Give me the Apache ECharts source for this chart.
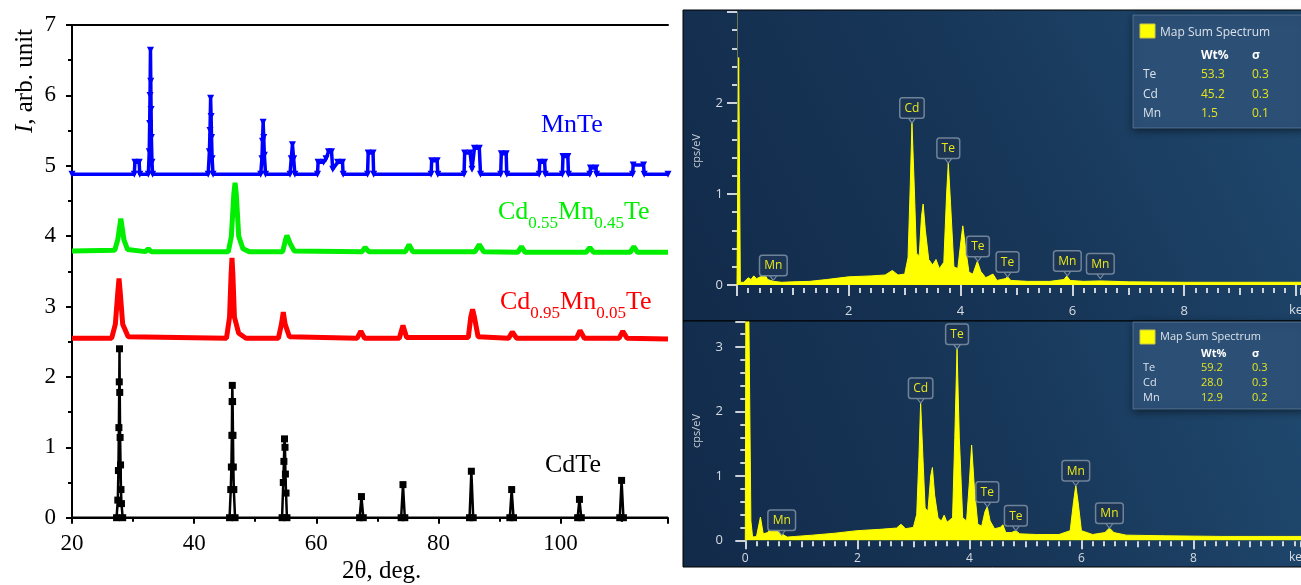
<!DOCTYPE html>
<html><head><meta charset="utf-8">
<script src="https://cdn.jsdelivr.net/npm/echarts@6.0.0/dist/echarts.min.js"></script>
<style>html,body{margin:0;padding:0;background:#fff}#c{width:1301px;height:585px}</style>
</head><body><div id="c"></div>
<script>
// ---------- XRD (left) ----------
const cdteTheta = [20,27.3,27.5,27.6,27.68,27.74,27.78,27.82,27.88,27.95,28.02,28.1,28.3,45.8,46.0,46.1,46.18,46.22,46.25,46.3,46.36,46.42,46.5,46.7,54.4,54.6,54.7,54.8,54.88,54.95,55.05,55.2,67.1,67.4,67.7,73.9,74.2,74.5,85.1,85.4,85.7,91.7,92.0,92.3,102.8,103.1,103.4,109.7,110.0,110.3,117.6];
const cdteInt   = [0,0,0.25,0.67,1.28,1.93,2.4,1.78,1.14,0.75,0.4,0.2,0,0,0.4,0.72,1.17,1.65,1.88,1.65,1.17,0.72,0.4,0,0,0.5,0.8,1.12,1.0,0.62,0.35,0,0,0.3,0,0,0.47,0,0,0.66,0,0,0.4,0,0,0.26,0,0,0.53,0,0];

const cmt05Theta = [20,26.5,27.1,27.5,27.7,27.9,28.3,29.2,45.3,45.8,46.05,46.2,46.35,46.6,47.3,48.5,53.8,54.3,54.6,54.9,55.6,66.7,67.3,67.9,73.6,74.2,74.8,84.9,85.3,85.6,85.9,86.5,91.5,92.1,92.8,102.6,103.2,103.9,109.6,110.2,110.9,117.6];
const cmt05Int   = [2.55,2.55,2.75,3.2,3.40,3.2,2.75,2.57,2.55,2.85,3.45,3.69,3.45,2.85,2.62,2.55,2.55,2.75,2.92,2.75,2.57,2.55,2.65,2.55,2.55,2.73,2.56,2.56,2.85,2.96,2.85,2.57,2.55,2.64,2.55,2.55,2.66,2.55,2.55,2.65,2.55,2.54];

const cmt45Theta = [20,27.0,27.5,28.0,28.5,29.1,32.0,32.5,33.0,45.6,46.1,46.5,46.7,46.9,47.3,48.0,49.0,54.5,55.0,55.2,55.7,56.4,67.5,68.0,68.6,74.6,75.2,75.8,86.0,86.7,87.4,93.0,93.6,94.2,104.2,104.8,105.4,111.4,112.0,112.6,117.6];
const cmt45Int   = [3.79,3.80,3.95,4.25,3.95,3.81,3.78,3.82,3.78,3.78,4.0,4.6,4.76,4.6,4.0,3.82,3.78,3.78,3.96,4.01,3.9,3.79,3.78,3.84,3.78,3.78,3.88,3.78,3.78,3.88,3.78,3.77,3.85,3.77,3.77,3.84,3.77,3.77,3.85,3.77,3.77];

const mnteTheta = [20,30.2,30.3,31.0,31.1,32.5,32.65,32.72,32.78,32.85,32.9,32.95,33.0,33.1,33.2,42.3,42.5,42.6,42.7,42.78,42.85,42.95,43.1,50.9,51.1,51.2,51.3,51.4,51.5,51.7,55.7,55.9,56.1,56.3,56.5,60.2,60.3,61.2,61.6,62.0,62.5,62.7,63.5,64.3,64.4,68.4,68.5,69.3,69.4,78.8,78.9,79.8,79.9,84.2,84.3,85.2,85.5,85.9,86.7,86.9,90.2,90.3,91.1,91.2,96.5,96.6,97.4,97.5,100.3,100.4,101.2,101.3,104.8,104.9,105.8,105.9,111.8,111.9,113.6,113.7,117.6];
const mnteInt   = [4.88,4.88,5.05,5.05,4.88,4.88,5.2,5.6,6.0,6.64,6.2,5.8,5.4,5.05,4.88,4.88,5.2,5.5,5.96,5.7,5.4,5.1,4.88,4.88,5.1,5.35,5.62,5.4,5.15,4.88,4.88,5.1,5.30,5.1,4.88,4.88,5.05,5.05,5.1,5.2,5.2,4.95,5.05,5.05,4.88,4.88,5.18,5.18,4.88,4.88,5.07,5.07,4.88,4.88,5.18,5.18,4.95,5.25,5.25,4.88,4.88,5.17,5.17,4.88,4.88,5.05,5.05,4.88,4.88,5.13,5.13,4.88,4.88,4.97,4.97,4.88,4.88,5.01,5.01,4.88,4.88];

// ---------- EDS spectra (right) ----------
const spec1E = [0.0,0.03,0.06,0.12,0.2,0.25,0.3,0.35,0.42,0.5,0.55,0.65,0.8,1.0,1.3,1.6,2.0,2.4,2.65,2.78,2.88,3.0,3.06,3.1,3.13,3.17,3.21,3.26,3.3,3.33,3.37,3.43,3.5,3.56,3.62,3.7,3.75,3.78,3.82,3.88,3.95,4.0,4.04,4.09,4.15,4.22,4.3,4.36,4.45,4.58,4.65,4.8,4.84,4.9,5.2,5.6,5.85,5.9,5.96,6.2,6.5,7.0,8.0,9.0,10.1];
const spec1C = [0.0,2.5,0.03,0.03,0.08,0.06,0.1,0.07,0.09,0.11,0.06,0.04,0.03,0.035,0.04,0.06,0.09,0.1,0.11,0.16,0.11,0.12,0.3,1.1,1.78,1.1,0.35,0.32,0.75,0.89,0.6,0.28,0.22,0.28,0.18,0.25,1.0,1.34,0.9,0.2,0.18,0.45,0.65,0.4,0.14,0.12,0.26,0.15,0.08,0.12,0.05,0.07,0.09,0.05,0.04,0.04,0.06,0.10,0.05,0.04,0.045,0.035,0.03,0.03,0.03];
const spec2E = [0.0,0.01,0.06,0.1,0.13,0.2,0.27,0.32,0.4,0.47,0.52,0.58,0.65,0.75,0.9,1.2,1.6,2.0,2.4,2.7,2.78,2.86,3.0,3.06,3.1,3.13,3.17,3.21,3.26,3.31,3.34,3.38,3.44,3.5,3.55,3.6,3.7,3.74,3.78,3.82,3.88,3.95,4.0,4.04,4.09,4.15,4.22,4.28,4.32,4.37,4.45,4.55,4.6,4.65,4.75,4.83,4.9,5.2,5.6,5.8,5.86,5.9,5.94,6.0,6.2,6.42,6.5,6.58,6.8,7.5,8.5,9.95];
const spec2C = [0.0,3.8,3.8,0.3,0.05,0.06,0.36,0.1,0.12,0.22,0.25,0.24,0.1,0.05,0.06,0.08,0.11,0.15,0.17,0.19,0.25,0.18,0.2,0.4,1.3,2.13,1.3,0.5,0.45,1.0,1.13,0.7,0.35,0.3,0.39,0.28,0.35,1.6,2.97,1.6,0.35,0.3,0.9,1.48,0.8,0.25,0.22,0.45,0.52,0.3,0.18,0.2,0.24,0.12,0.12,0.15,0.1,0.09,0.09,0.15,0.6,0.85,0.6,0.15,0.09,0.12,0.19,0.12,0.08,0.07,0.06,0.06];

const peaks1Name = ['Mn','Cd','Te','Te','Te','Mn','Mn'];
const peaks1E    = [0.65,3.13,3.78,4.31,4.84,5.91,6.50];
const peaks1C    = [0.05,1.78,1.34,0.26,0.09,0.10,0.07];
const peaks2Name = ['Mn','Cd','Te','Te','Te','Mn','Mn'];
const peaks2E    = [0.65,3.13,3.78,4.32,4.83,5.90,6.50];
const peaks2C    = [0.08,2.13,2.97,0.52,0.15,0.85,0.19];

const legendTitle = 'Map Sum Spectrum';
const legendElems = ['Te','Cd','Mn'];
const wt1 = ['53.3','45.2','1.5'];
const sig1 = ['0.3','0.3','0.1'];
const wt2 = ['59.2','28.0','12.9'];
const sig2 = ['0.3','0.3','0.2'];

// ---------- build ----------
const zip = (a, b) => a.map((v, i) => [v, b[i]]);
const serif = '"Liberation Serif", "Times New Roman", serif';
const sans = '"Open Sans", "Noto Sans", sans-serif';

const chart = echarts.init(document.getElementById('c'), null, {renderer: 'canvas'});

function panelX(grid, min, max, labelFn, off, longLen, midLen, margin, fs) {
  return [
    {type: 'value', gridIndex: grid, position: 'bottom', min: min, max: max, interval: 2, offset: off,
     axisLine: {show: false}, splitLine: {show: false},
     axisTick: {show: true, length: longLen, lineStyle: {color: '#ccd3db', width: 2}},
     axisLabel: {show: true, margin: margin, color: '#d6dce3', fontSize: fs, fontFamily: sans, formatter: labelFn, showMaxLabel: false}},
    {type: 'value', gridIndex: grid, position: 'bottom', min: min, max: max, interval: 1, offset: off,
     axisLine: {show: false}, splitLine: {show: false},
     axisTick: {show: true, length: midLen, lineStyle: {color: '#ccd3db', width: 2}},
     minorTick: {show: true, splitNumber: 5, length: 5, lineStyle: {color: '#ccd3db', width: 2}},
     axisLabel: {show: false}}
  ];
}
function panelY(grid, max, offset, lineShow, labelFn) {
  return {type: 'value', gridIndex: grid, position: 'left', min: 0, max: max, interval: 1, offset: offset,
    axisLine: {show: lineShow, lineStyle: {color: 'rgba(190,190,90,0.5)', width: 1}},
    splitLine: {show: false},
    axisTick: {show: true, length: 10, lineStyle: {color: '#ccd3db', width: 2}},
    minorTick: {show: true, splitNumber: 5, length: 5, lineStyle: {color: '#ccd3db', width: 2}},
    axisLabel: {margin: 14, color: '#d6dce3', fontSize: 13, fontFamily: sans, formatter: labelFn, showMaxLabel: false}};
}
function peakMarks(names, es, cs) {
  return {
    symbol: 'triangle', symbolRotate: 180, symbolSize: [9, 6], symbolOffset: [0, -3],
    itemStyle: {color: '#1d3756', borderColor: '#7b8fa5', borderWidth: 1},
    label: {show: true, position: 'top', distance: -1, formatter: '{b}', color: '#e8e81a',
      fontSize: 12, fontFamily: sans, backgroundColor: '#1c3555', borderColor: '#6f8399',
      borderWidth: 1.5, borderRadius: 2, padding: [4, 4, 3, 4]},
    data: names.map((n, i) => ({name: n, coord: [es[i], cs[i]]}))
  };
}

const x1 = panelX(1, 0, 10.09, v => (v === 0 || v >= 10) ? '' : String(v), 3, 11, 7, 17, 13);
const x2 = panelX(2, 0, 9.92, v => String(v), 1, 9, 6, 11, 12);

const labelRich = {
  m: {fontSize: 26, fontFamily: serif, lineHeight: 28, verticalAlign: 'top'},
  s: {fontSize: 17, fontFamily: serif, lineHeight: 17, padding: [16, 0, 0, 0], verticalAlign: 'top'}
};
function xrdLabel(text, x, y, color) {
  return {type: 'text', x: x, y: y, z: 50,
    style: {text: text, rich: labelRich, fill: color, align: 'left', verticalAlign: 'top', textAlign: 'left', textVerticalAlign: 'top'}};
}

function legendBox(y, h, fs, rowY, headY, titleY, sqY, wt, sg) {
  const items = [
    {type: 'rect', shape: {x: 1133, y: y, width: 172, height: h}, z: 100,
     style: {fill: '#2c4f76', stroke: 'rgba(110,140,170,0.6)', lineWidth: 1, shadowBlur: 8, shadowColor: 'rgba(0,0,0,0.55)', shadowOffsetX: 1, shadowOffsetY: 2}},
    {type: 'rect', shape: {x: 1140, y: sqY, width: 15, height: 14}, z: 101,
     style: {fill: '#ffff00', stroke: '#c8c84a', lineWidth: 1}},
    {type: 'text', z: 101, style: {x: 1160, y: titleY, text: legendTitle, fill: '#dbe2ea', font: fs + 'px ' + sans, align: 'left', verticalAlign: 'middle', textVerticalAlign: 'middle'}},
    {type: 'text', z: 101, style: {x: 1201, y: headY, text: 'Wt%', fill: '#ffffff', font: 'bold ' + fs + 'px ' + sans, align: 'left', verticalAlign: 'middle', textVerticalAlign: 'middle'}},
    {type: 'text', z: 101, style: {x: 1252, y: headY, text: 'σ', fill: '#ffffff', font: 'bold ' + fs + 'px ' + sans, align: 'left', verticalAlign: 'middle', textVerticalAlign: 'middle'}}
  ];
  legendElems.forEach((el, i) => {
    items.push({type: 'text', z: 101, style: {x: 1143, y: rowY[i], text: el, fill: '#dbe2ea', font: fs + 'px ' + sans, align: 'left', verticalAlign: 'middle', textVerticalAlign: 'middle'}});
    items.push({type: 'text', z: 101, style: {x: 1201, y: rowY[i], text: wt[i], fill: '#e4e41e', font: fs + 'px ' + sans, align: 'left', verticalAlign: 'middle', textVerticalAlign: 'middle'}});
    items.push({type: 'text', z: 101, style: {x: 1252, y: rowY[i], text: sg[i], fill: '#e4e41e', font: fs + 'px ' + sans, align: 'left', verticalAlign: 'middle', textVerticalAlign: 'middle'}});
  });
  return items;
}

const bgGrad = () => new echarts.graphic.LinearGradient(0, 1, 1, 0, [
  {offset: 0, color: '#122a4a'}, {offset: 0.5, color: '#173658'}, {offset: 1, color: '#204a70'}]);

const graphics = [
  {type: 'rect', shape: {x: 683, y: 10, width: 620, height: 311}, z: -10, style: {fill: bgGrad(), stroke: '#000', lineWidth: 1}},
  {type: 'rect', shape: {x: 683, y: 321, width: 620, height: 246}, z: -10, style: {fill: bgGrad(), stroke: '#000', lineWidth: 1}},
  {type: 'text', x: 697, y: 151, rotation: Math.PI / 2, z: 5,
   style: {x: 0, y: 0, text: 'cps/eV', fill: '#c9d0d8', font: '11px ' + sans, align: 'center', verticalAlign: 'middle', textAlign: 'center', textVerticalAlign: 'middle'}},
  {type: 'text', x: 697, y: 431, rotation: Math.PI / 2, z: 5,
   style: {x: 0, y: 0, text: 'cps/eV', fill: '#c9d0d8', font: '11px ' + sans, align: 'center', verticalAlign: 'middle', textAlign: 'center', textVerticalAlign: 'middle'}},
  {type: 'text', z: 5, style: {x: 1289, y: 310, text: 'keV', fill: '#d6dce3', font: '13px ' + sans, align: 'left', verticalAlign: 'middle', textVerticalAlign: 'middle'}},
  {type: 'text', z: 5, style: {x: 1289, y: 558, text: 'keV', fill: '#d6dce3', font: '12px ' + sans, align: 'left', verticalAlign: 'middle', textVerticalAlign: 'middle'}},
  // XRD axis titles
  {type: 'text', x: 25, y: 81, rotation: Math.PI / 2, z: 5,
   style: {x: 0, y: 0, text: '{i|I}{n|, arb. unit}', rich: {i: {fontSize: 25, fontFamily: serif, fontStyle: 'italic'}, n: {fontSize: 25, fontFamily: serif}},
     fill: '#000', align: 'center', verticalAlign: 'middle', textAlign: 'center', textVerticalAlign: 'middle'}},
  {type: 'text', z: 5, style: {x: 342, y: 571, text: '2θ, deg.', fill: '#000', font: '25px ' + serif, align: 'left', verticalAlign: 'middle', textVerticalAlign: 'middle'}},
  xrdLabel('{m|MnTe}', 541, 112, '#0000ff'),
  xrdLabel('{m|Cd}{s|0.55}{m|Mn}{s|0.45}{m|Te}', 498, 199, '#00ee00'),
  xrdLabel('{m|Cd}{s|0.95}{m|Mn}{s|0.05}{m|Te}', 500, 289, '#ff0000'),
  xrdLabel('{m|CdTe}', 545, 452, '#000000')
].concat(
  legendBox(15, 113, 12, [75, 95, 114], 56, 33, 24, wt1, sig1),
  legendBox(322, 87, 11, [368, 383, 398], 354, 337, 330, wt2, sig2)
);

const option = {
  animation: false,
  backgroundColor: '#ffffff',
  grid: [
    {left: 72, right: 633, top: 25, bottom: 67.3},
    {left: 737, right: 0, top: 12, bottom: 300},
    {left: 745.3, right: 0, top: 322, bottom: 44.7}
  ],
  xAxis: [
    {type: 'value', gridIndex: 0, position: 'bottom', min: 20, max: 117.6, interval: 20,
     axisLine: {lineStyle: {color: '#000', width: 2}}, splitLine: {show: false},
     axisTick: {length: 6, lineStyle: {color: '#000', width: 2}},
     minorTick: {show: true, splitNumber: 2, length: 4, lineStyle: {color: '#000', width: 2}},
     axisLabel: {margin: 15, color: '#000', fontSize: 23, fontFamily: serif, showMaxLabel: false}},
    {type: 'value', gridIndex: 0, position: 'top', min: 20, max: 117.6,
     axisLine: {lineStyle: {color: '#000', width: 2}}, axisTick: {show: false}, axisLabel: {show: false}, splitLine: {show: false}},
    x1[0], x1[1], x2[0], x2[1]
  ],
  yAxis: [
    {type: 'value', gridIndex: 0, min: 0, max: 7, interval: 1,
     axisLine: {show: true, lineStyle: {color: '#000', width: 2}}, splitLine: {show: false},
     axisTick: {show: true, length: 6, lineStyle: {color: '#000', width: 2}},
     minorTick: {show: true, splitNumber: 2, length: 4, lineStyle: {color: '#000', width: 2}},
     axisLabel: {margin: 16, color: '#000', fontSize: 23, fontFamily: serif}},
    panelY(1, 3, 0, true, v => v === 3 ? '' : String(v)),
    panelY(2, 3.39, 8.3, false, v => String(v))
  ],
  graphic: graphics,
  series: [
    {name: 'Cd0.95Mn0.05Te', type: 'line', xAxisIndex: 0, yAxisIndex: 0, data: zip(cmt05Theta, cmt05Int),
     showSymbol: false, lineStyle: {color: '#ff0000', width: 5}, itemStyle: {color: '#ff0000'}, z: 3},
    {name: 'Cd0.55Mn0.45Te', type: 'line', xAxisIndex: 0, yAxisIndex: 0, data: zip(cmt45Theta, cmt45Int),
     showSymbol: false, lineStyle: {color: '#00ee00', width: 5}, itemStyle: {color: '#00ee00'}, z: 3},
    {name: 'MnTe', type: 'line', xAxisIndex: 0, yAxisIndex: 0, data: zip(mnteTheta, mnteInt),
     symbol: 'triangle', symbolRotate: 180, symbolSize: 7, showAllSymbol: true,
     lineStyle: {color: '#0000ff', width: 3.5}, itemStyle: {color: '#0000ff'}, z: 4},
    {name: 'CdTe', type: 'line', xAxisIndex: 0, yAxisIndex: 0, data: zip(cdteTheta, cdteInt),
     symbol: v => (v[0] <= 20 || v[0] >= 117.6) ? 'none' : 'rect', symbolSize: 7, showAllSymbol: true,
     lineStyle: {color: '#000000', width: 2.5}, itemStyle: {color: '#000000'}, z: 4},
    {name: 'spec1', type: 'line', xAxisIndex: 2, yAxisIndex: 1, data: zip(spec1E, spec1C),
     showSymbol: false, clip: true, lineStyle: {color: '#ffff00', width: 1}, areaStyle: {color: '#ffff00', opacity: 1},
     markPoint: peakMarks(peaks1Name, peaks1E, peaks1C), z: 3},
    {name: 'spec2', type: 'line', xAxisIndex: 4, yAxisIndex: 2, data: zip(spec2E, spec2C),
     showSymbol: false, clip: true, lineStyle: {color: '#ffff00', width: 1}, areaStyle: {color: '#ffff00', opacity: 1},
     markPoint: peakMarks(peaks2Name, peaks2E, peaks2C), z: 3}
  ]
};
chart.setOption(option);
</script>
</body></html>
